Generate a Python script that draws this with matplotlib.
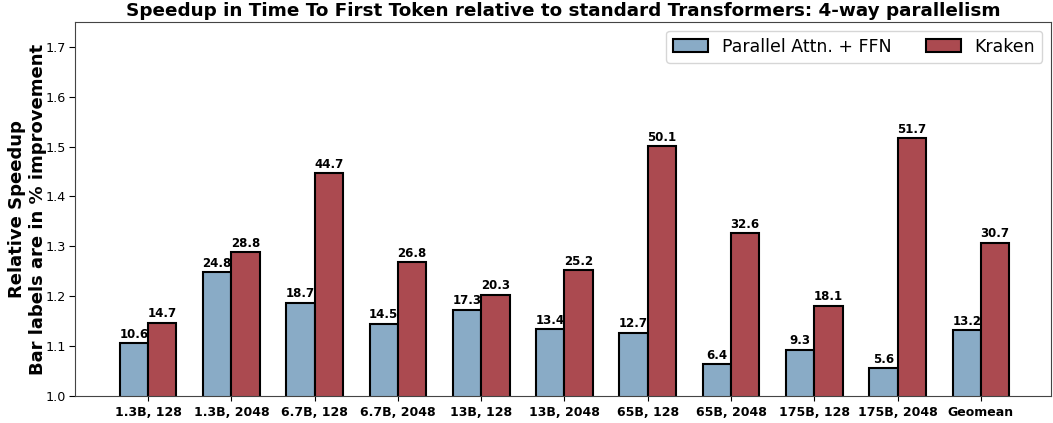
import matplotlib
matplotlib.use("Agg")
import matplotlib.pyplot as plt
import numpy as np

categories = ["1.3B, 128", "1.3B, 2048", "6.7B, 128", "6.7B, 2048", "13B, 128",
              "13B, 2048", "65B, 128", "65B, 2048", "175B, 128", "175B, 2048", "Geomean"]
parallel_pct = [10.6, 24.8, 18.7, 14.5, 17.3, 13.4, 12.7, 6.4, 9.3, 5.6, 13.2]
kraken_pct = [14.7, 28.8, 44.7, 26.8, 20.3, 25.2, 50.1, 32.6, 18.1, 51.7, 30.7]

parallel = [1 + p / 100 for p in parallel_pct]
kraken = [1 + p / 100 for p in kraken_pct]

x = np.arange(len(categories))
w = 0.34

fig, ax = plt.subplots(figsize=(10.53, 4.23), dpi=100)
b1 = ax.bar(x - w / 2, parallel, w, color="#89abc6", edgecolor="black", linewidth=1.5,
            label="Parallel Attn. + FFN")
b2 = ax.bar(x + w / 2, kraken, w, color="#ab4a50", edgecolor="black", linewidth=1.5,
            label="Kraken")

for bars, labels in ((b1, parallel_pct), (b2, kraken_pct)):
    for rect, lab in zip(bars, labels):
        ax.text(rect.get_x() + rect.get_width() / 2, rect.get_height() + 0.005, f"{lab}",
                ha="center", va="bottom", fontsize=8.5, fontweight="bold")

ax.set_ylim(1.0, 1.75)
ax.set_xlim(-0.88, 10.84)
ax.set_xticks(x)
ax.set_xticklabels(categories, fontweight="bold", fontsize=9)
ax.tick_params(axis="y", labelsize=9.2, pad=2, length=4.5)
ax.set_ylabel("Relative Speedup\nBar labels are in % improvement", fontsize=13,
              fontweight="bold", linespacing=1.2)
ax.yaxis.set_label_coords(-0.0285, 0.5)
ax.set_title("Speedup in Time To First Token relative to standard Transformers: 4-way parallelism",
             fontsize=13.2, fontweight="bold", pad=4)
ax.legend(loc="upper right", fontsize=12.5, ncol=2, columnspacing=2.0)
for s in ax.spines.values():
    s.set_color("#444444")

fig.subplots_adjust(left=0.071, right=0.998, top=0.948, bottom=0.064)
fig.savefig("out.png", dpi=100)
